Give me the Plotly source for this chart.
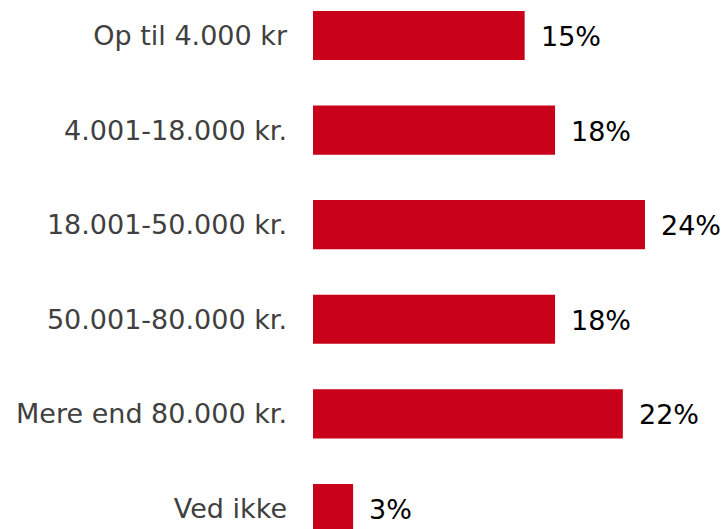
import plotly.graph_objects as go

# Data
categories = ["Op til 4.000 kr", "4.001-18.000 kr.", "18.001-50.000 kr.",
              "50.001-80.000 kr.", "Mere end 80.000 kr.", "Ved ikke"]
values = [15.3, 17.5, 24.0, 17.5, 22.4, 2.9]
value_labels = ["15%", "18%", "24%", "18%", "22%", "3%"]

BAR_RED = "#C8001A"
FONT = "DejaVu Sans"
FONT_SIZE = 27

fig = go.Figure()

fig.add_trace(
    go.Bar(
        x=values,
        y=categories,
        orientation="h",
        marker_color=BAR_RED,
        marker_line_width=0,
        width=0.52,
        hoverinfo="skip",
    )
)

# value labels to the right of each bar
for cat, val, lab in zip(categories, values, value_labels):
    fig.add_annotation(
        x=val, y=cat, text=lab,
        xanchor="left", yanchor="middle",
        xshift=14, yshift=-1, showarrow=False,
        font=dict(family=FONT, size=FONT_SIZE, color="#000000"),
    )

fig.update_layout(
    width=727, height=529,
    margin=dict(l=313, r=0, t=0, b=0),
    paper_bgcolor="white",
    plot_bgcolor="white",
    showlegend=False,
    font=dict(family=FONT, size=FONT_SIZE, color="#404040"),
)

fig.update_xaxes(range=[0, 29.93], visible=False)
fig.update_yaxes(
    type="category",
    range=[5.217, -0.375],
    showgrid=False, zeroline=False, showline=False,
    ticks="", ticklabelstandoff=25,
    tickfont=dict(family=FONT, size=FONT_SIZE, color="#404040"),
)

# remove the default page margin so the chart fills the window
fig.write_html(
    "out.html",
    config={"displayModeBar": False},
    post_script="document.body.style.margin='0';",
)
